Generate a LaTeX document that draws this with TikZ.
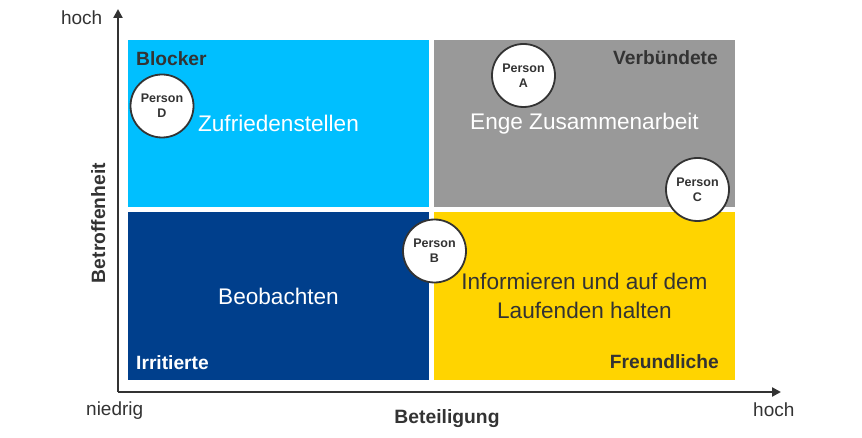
\documentclass[tikz,border=0pt]{standalone}
\usepackage{fontspec}
\setmainfont{Liberation Sans}
\usetikzlibrary{arrows.meta}
\definecolor{blockercyan}{HTML}{00BFFF}
\definecolor{allygray}{HTML}{999999}
\definecolor{irritblue}{HTML}{003F8C}
\definecolor{friendyellow}{HTML}{FFD400}
\definecolor{darktext}{HTML}{333333}
\newcommand\quadrant[6]{%
% filled field, its centre is kept as a coordinate
    \fill[#6] (#2,#3) rectangle (#4,#5);
    \coordinate (#1) at ({(#2+#4)/2},{(#3+#5)/2});
    }
\newcommand\person[3]{%
    \node[person] (#1) at (#2) {Person\\#3};
    }

\begin{document}
\begin{tikzpicture}[x=1pt,y=-1pt,
    axis/.style={draw=darktext,line width=2.6pt,-{Triangle[width=9pt,length=9pt]}},
    quadtext/.style={font=\fontsize{22.6}{28.5}\selectfont,align=center,inner sep=0pt},
    cornerlabel/.style={font=\fontsize{19.2}{23}\selectfont\bfseries,inner sep=0pt},
    axislabel/.style={font=\fontsize{19}{23}\selectfont,text=darktext,inner sep=0pt},
    person/.style={circle,draw=darktext,line width=1.8pt,fill=white,minimum size=63pt,
        inner sep=0pt,align=center,text=darktext,font=\fontsize{12.5}{15}\selectfont\bfseries}]
    \useasboundingbox (0,0) rectangle (862,438);

    % the four fields
    \quadrant{blocker}{128}{40}{429}{207}{blockercyan}
    \quadrant{ally}{434}{40}{735}{207}{allygray}
    \quadrant{irrit}{128}{212}{429}{380}{irritblue}
    \quadrant{friend}{434}{212}{735}{380}{friendyellow}

    % axes
    \coordinate (origin) at (118,392);
    \coordinate (ytop) at (118,9);
    \coordinate (xend) at (781,392);
    \draw[axis] (origin) -- (ytop);
    \draw[axis] (origin) -- (xend);

    % texts in the fields
    \node[quadtext,text=white] (satisfy) at (blocker) {Zufriedenstellen};
    \node[quadtext,text=white] (closework) at (ally) {Enge Zusammenarbeit};
    \node[quadtext,text=white] (watch) at (irrit) {Beobachten};
    \node[quadtext,text=darktext] (inform) at (friend) {Informieren und auf dem\\Laufenden halten};

    \node[cornerlabel,text=darktext,anchor=base west] (blockerlabel) at (136,66) {Blocker};
    \node[cornerlabel,text=darktext,anchor=base east] (allylabel) at (718,65) {Verbündete};
    \node[cornerlabel,text=white,anchor=base west] (irritlabel) at (136,369) {Irritierte};
    \node[cornerlabel,text=darktext,anchor=base east] (friendlabel) at (719,368) {Freundliche};

    % axis labels
    \node[axislabel,anchor=base east] (yhigh) at (102.5,25) {hoch};
    \node[axislabel,anchor=base west] (xlow) at (86,415) {niedrig};
    \node[axislabel,anchor=base west] (xhigh) at (753,416) {hoch};
    \node[axislabel,font=\fontsize{19.3}{23}\selectfont\bfseries,anchor=base] (xname) at (447,423) {Beteiligung};
    \node[axislabel,font=\fontsize{19.3}{23}\selectfont\bfseries,anchor=base,rotate=90] (yname) at (105,223) {Betroffenheit};

    % stakeholders
    \person{persona}{523.5,75.5}{A}
    \person{personb}{434.5,251}{B}
    \person{personc}{697.5,189.5}{C}
    \person{persond}{162,106}{D}
\end{tikzpicture}
\end{document}
